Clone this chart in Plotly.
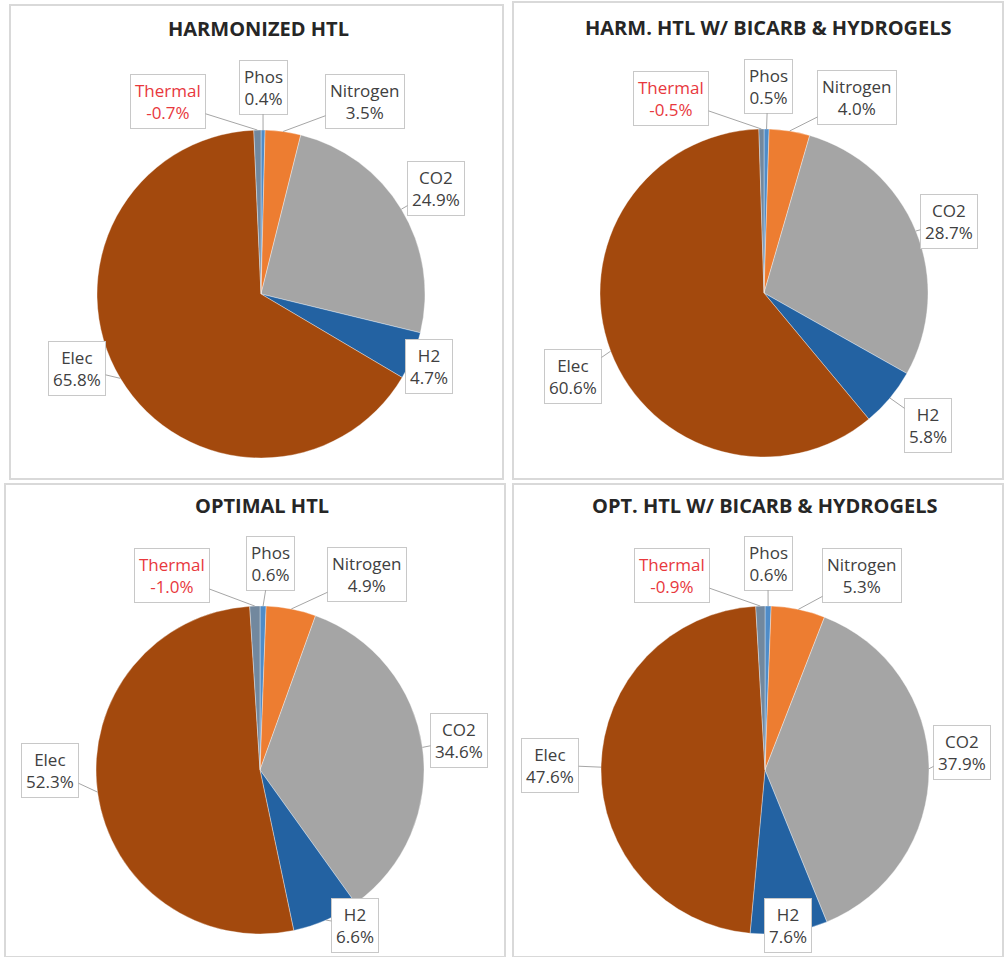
import math
import plotly.graph_objects as go

W, H = 1005, 957

# Slice order, clockwise from 12 o'clock
categories = ["Phos", "Nitrogen", "CO2", "H2", "Elec", "Thermal"]
colors = ["#4F8CC8", "#ED7D31", "#A5A5A5", "#2362A2", "#A3490D", "#72889E"]

titles = [
    "HARMONIZED HTL",
    "HARM. HTL W/ BICARB & HYDROGELS",
    "OPTIMAL HTL",
    "OPT. HTL W/ BICARB & HYDROGELS",
]

# Percent share of each category (Thermal is a credit, hence negative)
harmonized = [0.4, 3.5, 24.9, 4.7, 65.8, -0.7]
harm_bicarb = [0.5, 4.0, 28.7, 5.8, 60.6, -0.5]
optimal = [0.6, 4.9, 34.6, 6.6, 52.3, -1.0]
opt_bicarb = [0.6, 5.3, 37.9, 7.6, 47.6, -0.9]
series = [harmonized, harm_bicarb, optimal, opt_bicarb]

# Layout in pixels: pie centres/radius, title positions, label box centres
centers = [(261, 294), (764, 293), (260, 770), (765, 770)]
radius = 164
title_pos = [(258, 28), (768, 27), (262, 505), (764, 505)]
label_pos = [
    [(263, 87), (365, 101), (436, 189), (429, 366), (77, 368), (168, 102)],
    [(768, 86), (857, 97), (949, 222), (928, 425), (573, 377), (671, 98)],
    [(270, 563), (367, 574), (459, 740), (355, 925), (50, 770), (172, 575)],
    [(768, 563), (862, 575), (962, 752), (788, 925), (550, 765), (672, 575)],
]
panels = [(10, 5, 503, 479), (513, 2, 1003, 479), (5, 484, 505, 957), (513, 484, 1003, 957)]

FONT = "Open Sans, Lato, sans-serif"


def px(x):
    return x / W


def py(y):
    return 1 - y / H


fig = go.Figure()
annotations = []
shapes = []

for i, vals in enumerate(series):
    cx, cy = centers[i]
    mags = [abs(v) for v in vals]
    fig.add_trace(go.Pie(
        labels=categories,
        values=mags,
        sort=False,
        direction="clockwise",
        rotation=0,
        textinfo="none",
        hoverinfo="label+value",
        marker=dict(colors=colors, line=dict(color="rgba(255,255,255,0.6)", width=0.6)),
        domain=dict(x=[px(cx - radius), px(cx + radius)],
                    y=[py(cy + radius), py(cy - radius)]),
        showlegend=False,
    ))

    total = sum(mags)
    cum = 0.0
    for j, (name, v) in enumerate(zip(categories, vals)):
        mid = (cum + mags[j] / 2) / total * 2 * math.pi
        cum += mags[j]
        ex = cx + radius * math.sin(mid)
        ey = cy - radius * math.cos(mid)
        tx, ty = label_pos[i][j]
        fcol = "#E8383D" if name == "Thermal" else "#404040"
        annotations.append(dict(
            x=px(ex), y=py(ey), xref="paper", yref="paper",
            text=f"{name}<br>{v:.1f}%",
            showarrow=True, arrowhead=0, arrowwidth=1, arrowcolor="#A6A6A6",
            ax=tx - ex, ay=ty - ey,
            font=dict(family=FONT, size=17, color=fcol),
            bgcolor="white", bordercolor="#C8C8C8", borderwidth=1, borderpad=4,
            align="center",
        ))

    tx, ty = title_pos[i]
    annotations.append(dict(
        x=px(tx), y=py(ty), xref="paper", yref="paper", showarrow=False,
        xanchor="center", yanchor="middle",
        text=f"<b>{titles[i]}</b>",
        font=dict(family=FONT, size=20, color="#262626"),
    ))

for (x0, y0, x1, y1) in panels:
    shapes.append(dict(type="rect", xref="paper", yref="paper",
                       x0=px(x0), x1=px(x1), y0=py(y1), y1=py(y0),
                       line=dict(color="#D9D9D9", width=2), layer="below"))

fig.update_layout(
    width=W, height=H,
    margin=dict(l=0, r=0, t=0, b=0),
    paper_bgcolor="white", plot_bgcolor="white",
    annotations=annotations, shapes=shapes,
)

fig.write_html("out.html")
